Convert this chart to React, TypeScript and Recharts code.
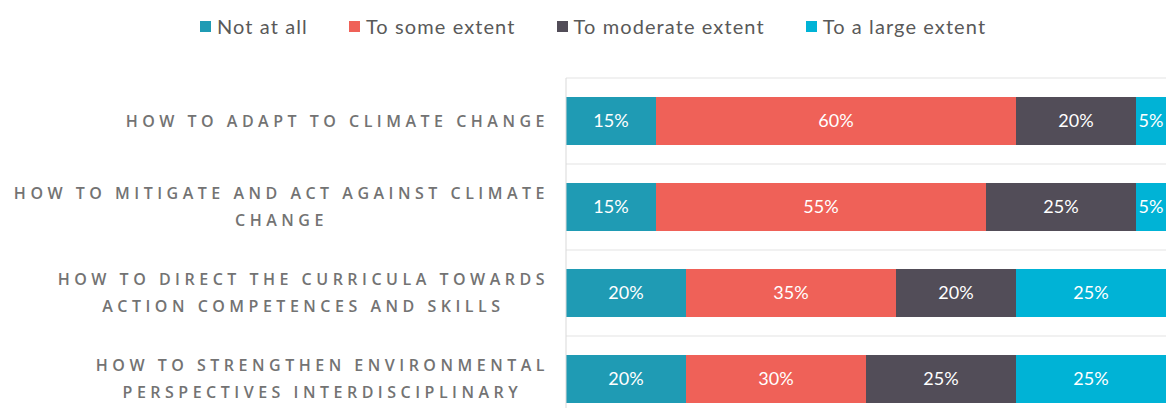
import React from "react";
import {
  BarChart,
  Bar,
  XAxis,
  YAxis,
  CartesianGrid,
  Legend,
  LabelList,
} from "recharts";

const categories = [
  "HOW TO ADAPT TO CLIMATE CHANGE",
  "HOW TO MITIGATE AND ACT AGAINST CLIMATE\nCHANGE",
  "HOW TO DIRECT THE CURRICULA TOWARDS\nACTION COMPETENCES AND SKILLS",
  "HOW TO STRENGTHEN ENVIRONMENTAL\nPERSPECTIVES INTERDISCIPLINARY",
];

const notAtAll = [15, 15, 20, 20];
const someExtent = [60, 55, 35, 30];
const moderateExtent = [20, 25, 20, 25];
const largeExtent = [5, 5, 25, 25];

const seriesKeys = ["notAtAll", "someExtent", "moderateExtent", "largeExtent"];
const seriesNames = [
  "Not at all",
  "To some extent",
  "To moderate extent",
  "To a large extent",
];
const seriesColors = ["#1f9bb4", "#ef6158", "#524d58", "#00b3d6"];

const data = categories.map((name, i) => ({
  name,
  notAtAll: notAtAll[i],
  someExtent: someExtent[i],
  moderateExtent: moderateExtent[i],
  largeExtent: largeExtent[i],
}));

const CategoryTick = ({ x, y, payload }: any) => (
  <foreignObject x={0} y={y - 40} width={x - 9} height={80}>
    <div
      style={{
        display: "flex",
        height: 80,
        alignItems: "center",
        justifyContent: "flex-end",
      }}
    >
      <div
        style={{
          textAlign: "center",
          whiteSpace: "pre-line",
          fontFamily: "'Open Sans', sans-serif",
          fontSize: 16,
          fontWeight: 600,
          letterSpacing: 4.5,
          lineHeight: "27px",
          color: "#737373",
        }}
      >
        {payload.value}
      </div>
    </div>
  </foreignObject>
);

// legend built straight from the series arrays so the order stays as drawn
const renderLegend = () => (
  <div
    style={{
      display: "flex",
      alignItems: "center",
      height: 52,
      paddingLeft: 200,
      gap: 41,
      fontFamily: "Lato, sans-serif",
      fontSize: 20,
      letterSpacing: 1.1,
      color: "#595959",
    }}
  >
    {seriesNames.map((name, i) => (
      <div key={name} style={{ display: "flex", alignItems: "center" }}>
        <span
          style={{
            display: "inline-block",
            width: 11,
            height: 11,
            background: seriesColors[i],
            marginRight: 6,
          }}
        />
        <span>{name}</span>
      </div>
    ))}
  </div>
);

export default function App() {
  return (
    <div
      style={{
        position: "absolute",
        top: 0,
        left: 0,
        width: 1166,
        height: 408,
        overflow: "hidden",
      }}
    >
      <BarChart
        width={1166}
        height={430}
        layout="vertical"
        data={data}
        margin={{ top: 0, right: 0, bottom: 8, left: 0 }}
        barCategoryGap="22%"
      >
        <CartesianGrid
          vertical={false}
          stroke="#e3e3e3"
          horizontalCoordinatesGenerator={({ offset }: any) =>
            categories.map(
              (_, i) => offset.top + (i * offset.height) / categories.length
            )
          }
        />
        <XAxis type="number" domain={[0, 100]} hide />
        <YAxis
          type="category"
          dataKey="name"
          width={566}
          axisLine={{ stroke: "#d9d9d9" }}
          tickLine={false}
          interval={0}
          tick={<CategoryTick />}
        />
        <Legend verticalAlign="top" height={78} content={renderLegend} />
        {seriesKeys.map((key, i) => (
          <Bar
            key={key}
            dataKey={key}
            name={seriesNames[i]}
            stackId="a"
            fill={seriesColors[i]}
            isAnimationActive={false}
          >
            <LabelList
              dataKey={key}
              position="center"
              fill="#ffffff"
              fontSize={18}
              fontFamily="Lato, sans-serif"
              formatter={(v: any) => `${v}%`}
            />
          </Bar>
        ))}
      </BarChart>
    </div>
  );
}
